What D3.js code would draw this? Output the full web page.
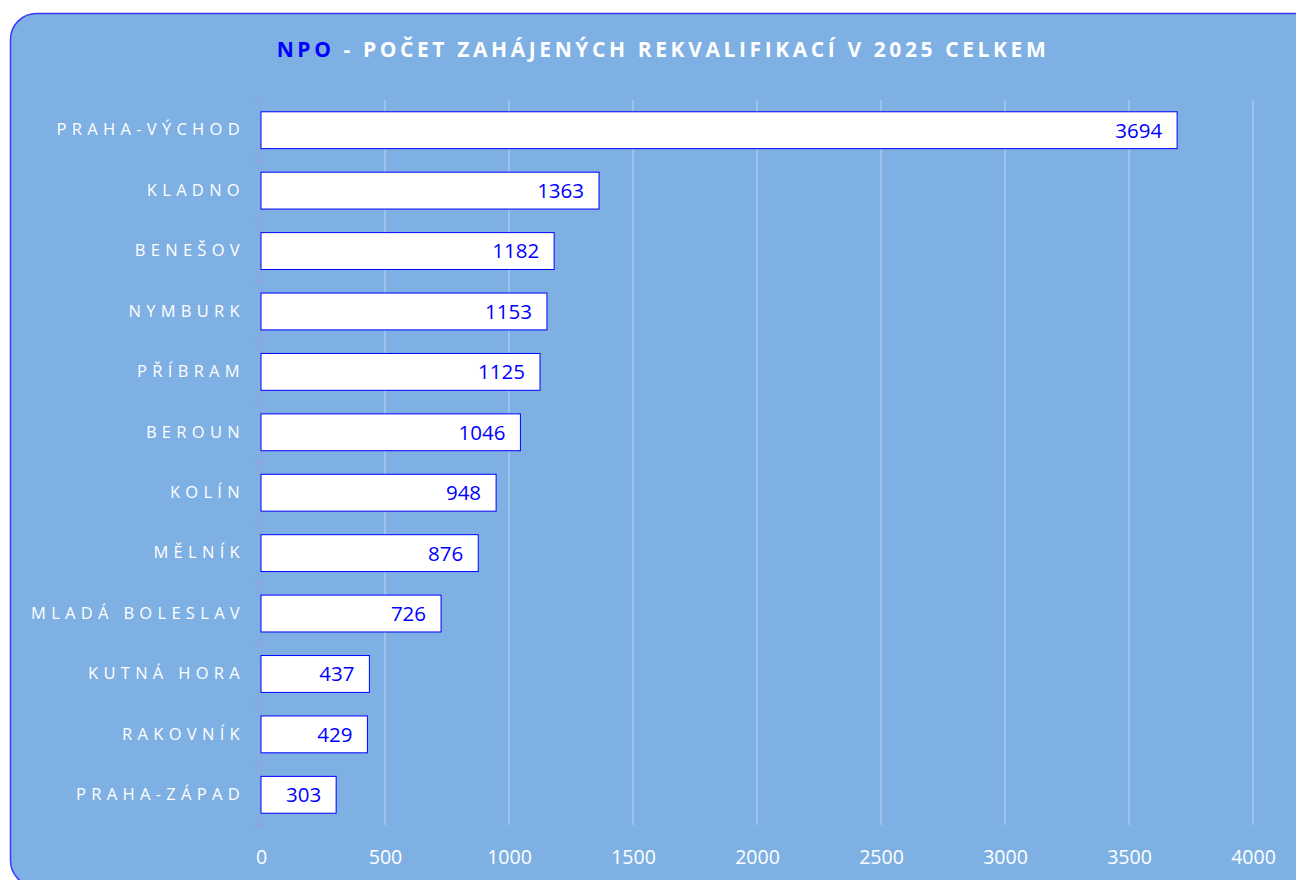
<!DOCTYPE html>
<html>
<head>
<meta charset="utf-8">
<script src="https://cdn.jsdelivr.net/npm/d3@7"></script>
<style>
  body { margin: 0; background: #fff; }
  svg text { font-family: "Open Sans", "DejaVu Sans", sans-serif; }
</style>
</head>
<body>
<svg id="chart" width="1296" height="880"></svg>
<script>
var categories = ['PRAHA-VÝCHOD', 'KLADNO', 'BENEŠOV', 'NYMBURK', 'PŘÍBRAM', 'BEROUN',
  'KOLÍN', 'MĚLNÍK', 'MLADÁ BOLESLAV', 'KUTNÁ HORA', 'RAKOVNÍK', 'PRAHA-ZÁPAD'];
var values = [3694, 1363, 1182, 1153, 1125, 1046, 948, 876, 726, 437, 429, 303];
var xTicks = [0, 500, 1000, 1500, 2000, 2500, 3000, 3500, 4000];

var svg = d3.select('#chart');

// frame
svg.append('rect')
  .attr('x', 10.5)
  .attr('y', 13.5)
  .attr('width', 1320)
  .attr('height', 873)
  .attr('rx', 26)
  .attr('ry', 26)
  .attr('fill', '#7eb0e4')
  .attr('stroke', '#3a3aff')
  .attr('stroke-width', 1.5);

// title
var title = svg.append('text')
  .attr('x', 663)
  .attr('y', 57)
  .attr('text-anchor', 'middle')
  .attr('font-size', 21)
  .attr('font-weight', 'bold')
  .attr('letter-spacing', 3.6)
  .attr('fill', '#fff');
title.append('tspan').attr('fill', '#0000ff').text('NPO');
title.append('tspan').text(' - POČET ZAHÁJENÝCH REKVALIFIKACÍ V 2025 CELKEM');

var x = d3.scaleLinear().domain([0, 4000]).range([261, 1253]);
var y = d3.scaleBand().domain(categories).range([100, 825]).paddingInner(0.39).paddingOuter(0.195);

// gridlines
svg.append('g')
  .selectAll('line')
  .data(xTicks.slice(1))
  .join('line')
  .attr('x1', function(d) { return x(d); })
  .attr('x2', function(d) { return x(d); })
  .attr('y1', 100)
  .attr('y2', 825)
  .attr('stroke', '#a9c9ef')
  .attr('stroke-width', 1.5);

// x axis labels
var xAxis = svg.append('g')
  .attr('transform', 'translate(0,825)')
  .call(d3.axisBottom(x).tickValues(xTicks).tickFormat(d3.format('d')).tickSize(0).tickPadding(22));
xAxis.select('.domain').remove();
xAxis.selectAll('text')
  .attr('font-size', 19.5)
  .attr('fill', '#fff')
  .attr('dy', '0.85em');

// y axis
var yAxis = svg.append('g')
  .attr('transform', 'translate(261,0)')
  .call(d3.axisLeft(y).tickSize(0).tickPadding(16));
yAxis.select('.domain').attr('stroke', '#9c9ad8').attr('stroke-width', 1);
yAxis.selectAll('text')
  .attr('font-size', 16.5)
  .attr('fill', '#fff')
  .attr('letter-spacing', 5.3);

// small tick marks at band edges
var edges = categories.map(function(c) { return y(c) - y.step() * y.paddingInner() / 2; });
edges.push(825);
svg.append('g')
  .selectAll('line')
  .data(edges)
  .join('line')
  .attr('x1', 255)
  .attr('x2', 261)
  .attr('y1', function(d) { return d; })
  .attr('y2', function(d) { return d; })
  .attr('stroke', '#9c9ad8');

// bars
var bars = svg.append('g')
  .selectAll('g')
  .data(values)
  .join('g');

bars.append('rect')
  .attr('x', x(0))
  .attr('y', function(d, i) { return y(categories[i]); })
  .attr('width', function(d) { return x(d) - x(0); })
  .attr('height', y.bandwidth())
  .attr('fill', '#fff')
  .attr('stroke', '#0000ff')
  .attr('stroke-width', 1);

bars.append('text')
  .attr('x', function(d) { return x(d) - 15; })
  .attr('y', function(d, i) { return y(categories[i]) + y.bandwidth() / 2; })
  .attr('dy', '0.36em')
  .attr('text-anchor', 'end')
  .attr('font-size', 20.5)
  .attr('fill', '#0000ff')
  .text(function(d) { return d; });
</script>
</body>
</html>
